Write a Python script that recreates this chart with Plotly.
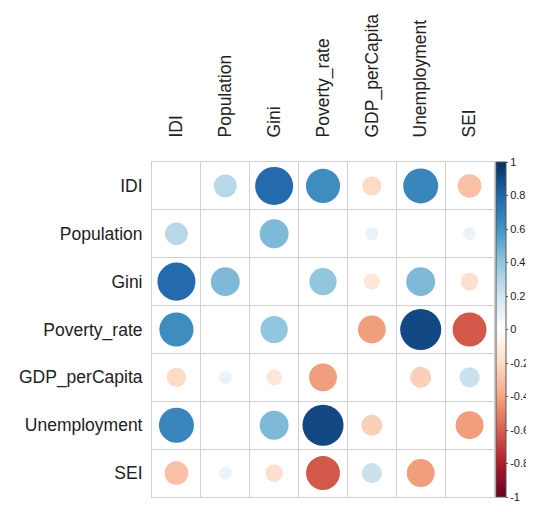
import numpy as np
import plotly.graph_objects as go

variables = ["IDI", "Population", "Gini", "Poverty_rate", "GDP_perCapita", "Unemployment", "SEI"]

corr_IDI           = [1.00, 0.28, 0.78, 0.63, -0.20, 0.66, -0.30]
corr_Population    = [0.28, 1.00, 0.45, 0.00, 0.09, 0.01, 0.09]
corr_Gini          = [0.78, 0.45, 1.00, 0.40, -0.14, 0.45, -0.17]
corr_Poverty_rate  = [0.63, 0.00, 0.40, 1.00, -0.42, 0.91, -0.62]
corr_GDP_perCapita = [-0.20, 0.09, -0.14, -0.42, 1.00, -0.24, 0.22]
corr_Unemployment  = [0.66, 0.01, 0.45, 0.91, -0.24, 1.00, -0.42]
corr_SEI           = [-0.30, 0.09, -0.17, -0.62, 0.22, -0.42, 1.00]

colorbar_ticks = [1, 0.8, 0.6, 0.4, 0.2, 0, -0.2, -0.4, -0.6, -0.8, -1]
colorbar_labels = ["1", "0.8", "0.6", "0.4", "0.2", "0", "-0.2", "-0.4", "-0.6", "-0.8", "-1"]

rows = [corr_IDI, corr_Population, corr_Gini, corr_Poverty_rate,
        corr_GDP_perCapita, corr_Unemployment, corr_SEI]

# page has an 8px body margin, so the figure is drawn 8px in from the corner
W, H = 526, 504
ML, MR, MT, MB = 144, 40, 154, 15
n = len(variables)
cell_w = (W - ML - MR) / n
cell_h = (H - MT - MB) / n
cell_px = min(cell_w, cell_h)

xs, ys, vals = [], [], []
for i, row in enumerate(rows):
    for j, v in enumerate(row):
        if i == j:
            continue
        xs.append(j)
        ys.append(i)
        vals.append(v)
vals = np.array(vals)
sizes = 0.9 * np.sqrt(np.abs(vals)) * cell_px

cscale_colors = ["#67001F", "#B2182B", "#D6604D", "#F4A582", "#FDDBC7", "#FFFFFF",
                 "#D1E5F0", "#92C5DE", "#4393C3", "#2166AC", "#053061"]
cscale = [[k / 10, c] for k, c in enumerate(cscale_colors)]

fig = go.Figure()
fig.add_trace(go.Scatter(
    x=xs, y=ys, mode="markers",
    marker=dict(
        size=sizes, sizemode="diameter", opacity=1,
        color=vals, colorscale=cscale, cmin=-1, cmax=1,
        line=dict(width=0),
        showscale=True,
        colorbar=dict(
            x=1.0 + 2 / (W - ML - MR), xanchor="left", xpad=0,
            y=0.5, yanchor="middle", len=1.0, lenmode="fraction", ypad=0,
            thickness=10, outlinewidth=1, outlinecolor="#555555",
            tickvals=colorbar_ticks, ticktext=colorbar_labels,
            ticks="outside", ticklen=2, tickcolor="#555555",
            tickfont=dict(family="Liberation Sans", size=11, color="#222222"),
        ),
    ),
    hoverinfo="skip",
    showlegend=False,
))

grid_color = "#d0d0d0"
fig.update_xaxes(
    range=[-0.5, n - 0.5], side="top",
    tickmode="array", tickvals=list(range(n)), ticktext=variables,
    tickangle=-90, ticks="", ticklabelstandoff=20,
    tickfont=dict(family="Liberation Sans", size=17.5, color="#222222"),
    showgrid=False, zeroline=False,
    minor=dict(tick0=-0.5, dtick=1, showgrid=True, gridcolor=grid_color, gridwidth=1, ticks=""),
    showline=True, mirror=True, linecolor=grid_color, linewidth=1,
)
fig.update_yaxes(
    range=[n - 0.5, -0.5],
    tickmode="array", tickvals=list(range(n)), ticktext=variables,
    ticks="", ticklabelstandoff=5,
    tickfont=dict(family="Liberation Sans", size=17.5, color="#222222"),
    showgrid=False, zeroline=False,
    minor=dict(tick0=-0.5, dtick=1, showgrid=True, gridcolor=grid_color, gridwidth=1, ticks=""),
    showline=True, mirror=True, linecolor=grid_color, linewidth=1,
)
fig.update_layout(
    width=W, height=H,
    margin=dict(l=ML, r=MR, t=MT, b=MB, autoexpand=False),
    plot_bgcolor="white", paper_bgcolor="white",
)
fig.write_html("out.html")
